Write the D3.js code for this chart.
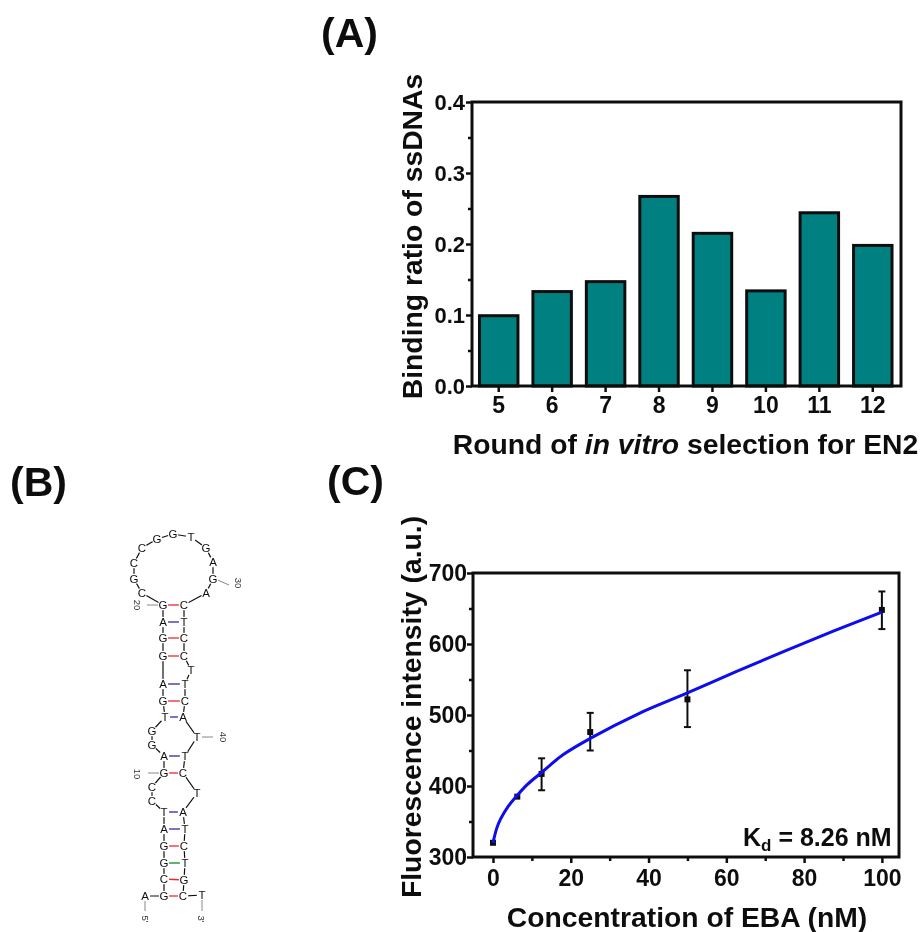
<!DOCTYPE html>
<html><head><meta charset="utf-8">
<script src="https://cdn.jsdelivr.net/npm/d3@7"></script>
<style>html,body{margin:0;background:#fff}svg{display:block}text{font-family:"Liberation Sans",Arial,sans-serif}
.b{font-weight:700;fill:#111}.axis path{display:none}</style></head><body>
<script>
// Panel A
const rounds = ["5","6","7","8","9","10","11","12"];
const ratios = [0.099,0.133,0.147,0.267,0.215,0.134,0.244,0.198];
const aMajor = [0,0.1,0.2,0.3,0.4];
const aMinor = [0.05,0.15,0.25,0.35];
// Panel C
const conc = [0,6.25,12.5,25,50,100];
const fluor = [320,385,417,476,522,648];
const errLow = [320,385,394,450,483,621];
const errHigh = [320,385,439,503,563,674];
const fitX = [0,1,2,4,6.25,9,12.5,18,25,37.5,50,62.5,75,87.5,100];
const fitY = [320,341,354,372,387,403,419,444,467,502,531,561,590,618,645];
const cXMajor = [0,20,40,60,80,100];
const cXMinor = [10,30,50,70,90];
const cYMajor = [300,400,500,600,700];
const cYMinor = [350,450,550,650];
// Panel B: sequence, 5' to 3', and drawn position of each base in diagram units
const seq = "AGCGGATCCGAGGTGAGGAGCGCCGGTGAGACTCCTTCATTCTATCTGCT".split("");
const baseX = [15,34,34,34,34,34,34,22,22,34,34,22,22,35,33,33,33,33,33,33,12,4,4,12,27,43,61,76,83,83,76,54,54,54,54,61,55,55,53,67,55,53,67,53,55,54,55,54,53,72];
const baseY = [366,366,349,333,316,299,282,271,257,243,226,215,201,187,171,154,126,108,92,75,63,49,33,18,9,4,7,18,32,49,63,75,92,108,126,140,154,171,187,207,226,243,263,282,299,316,333,350,366,365];
const pairs = [[2,49],[3,48],[4,47],[5,46],[6,45],[7,44],[10,42],[11,41],[14,39],[15,38],[16,37],[17,35],[18,34],[19,33],[20,32]];
const pairColors = {CG:"#f0282d",AT:"#2a2aa8",GT:"#0a8a1a"};
const marks = [
  {label:"20",base:20,dx:-16,dy:0,lx:-26,ly:0},
  {label:"30",base:30,dx:16,dy:6,lx:25,ly:4},
  {label:"40",base:40,dx:16,dy:0,lx:26,ly:0},
  {label:"10",base:10,dx:-16,dy:0,lx:-27,ly:1},
  {label:"5'",base:1,dx:0,dy:15,lx:0,ly:23},
  {label:"3'",base:50,dx:0,dy:16,lx:-1,ly:24}
];

const root = d3.select("body").append("svg").attr("width",922).attr("height",932);
root.append("defs").append("filter").attr("id","soft").attr("filterUnits","userSpaceOnUse")
  .attr("x",0).attr("y",0).attr("width",922).attr("height",932)
  .append("feGaussianBlur").attr("stdDeviation",0.45);
const svg = root.append("g").attr("filter","url(#soft)");
svg.append("rect").attr("width",922).attr("height",932).attr("fill","#fff");

function head(t,x,y){svg.append("text").attr("class","b").attr("x",x).attr("y",y).attr("font-size",41).text(t);}
head("(A)",321,47);head("(B)",10,496);head("(C)",327,495);

function ticks(g,axisFn,scale,major,minor,fmt,labelSize,pad){
  const M=g.append("g").attr("class","axis").call(axisFn(scale).tickValues(major).tickSize(6).tickPadding(pad).tickFormat(fmt));
  M.selectAll("line").attr("stroke","#111").attr("stroke-width",2.5);
  M.selectAll("text").attr("class","b").attr("font-size",labelSize).attr("fill","#111");
  if(minor){const m=g.append("g").attr("class","axis").call(axisFn(scale).tickValues(minor).tickSize(4).tickFormat(""));
  m.selectAll("line").attr("stroke","#111").attr("stroke-width",2.5);}
}
function frame(l,t,r,b){svg.append("rect").attr("x",l).attr("y",t).attr("width",r-l).attr("height",b-t).attr("fill","none").attr("stroke","#111").attr("stroke-width",3);}
function axisTitle(t,x,y,rot){const e=svg.append("text").attr("class","b").attr("text-anchor","middle").attr("font-size",28.3)
  .attr("transform",`translate(${x},${y})${rot?" rotate(-90)":""}`);return e.text(t);}

// ---- A
{
 const L=472,R=901,T=102,B=386;
 const x=d3.scaleBand().domain(rounds).range([L,899.5]).paddingInner(0.28).paddingOuter(0.14);
 const y=d3.scaleLinear().domain([0,0.4]).range([B,T]);
 svg.append("g").selectAll("rect").data(rounds).join("rect")
  .attr("x",d=>x(d)).attr("width",x.bandwidth())
  .attr("y",(d,i)=>y(ratios[i])).attr("height",(d,i)=>B-y(ratios[i]))
  .attr("fill","#008080").attr("stroke","#111").attr("stroke-width",3);
 frame(L,T,R,B);
 ticks(svg.append("g").attr("transform",`translate(${L},0)`),d3.axisLeft,y,aMajor,aMinor,d3.format(".1f"),22,1);
 ticks(svg.append("g").attr("transform",`translate(0,${B})`),d3.axisBottom,x,rounds,null,d=>d,23,5);
 const t=axisTitle("",685.5,454,false);
 t.append("tspan").text("Round of ");t.append("tspan").attr("font-style","italic").text("in vitro");t.append("tspan").text(" selection for EN2");
 axisTitle("Binding ratio of ssDNAs",422,236.5,true);
}
// ---- C
{
 const L=473,R=899,T=573,B=857;
 const x=d3.scaleLinear().domain([-5.14,104.4]).range([L,R]);
 const y=d3.scaleLinear().domain([300,700]).range([B,T]);
 frame(L,T,R,B);
 ticks(svg.append("g").attr("transform",`translate(${L},0)`),d3.axisLeft,y,cYMajor,cYMinor,d=>d,23,0);
 ticks(svg.append("g").attr("transform",`translate(0,${B})`),d3.axisBottom,x,cXMajor,cXMinor,d=>d,23,7);
 const ink=svg.append("g").attr("stroke","#111").attr("stroke-width",2);
 conc.forEach((c,i)=>{ if(errHigh[i]===errLow[i])return;
  ink.append("line").attr("x1",x(c)).attr("x2",x(c)).attr("y1",y(errLow[i])).attr("y2",y(errHigh[i]));
  [errLow[i],errHigh[i]].forEach(v=>ink.append("line").attr("x1",x(c)-3.5).attr("x2",x(c)+3.5).attr("y1",y(v)).attr("y2",y(v)));
 });
 svg.append("g").selectAll("rect").data(conc).join("rect")
  .attr("x",d=>x(d)-3).attr("width",6).attr("height",6).attr("y",(d,i)=>y(fluor[i])-3).attr("fill","#111");
 svg.append("path").datum(fitX).attr("fill","none").attr("stroke","#0a0aee").attr("stroke-width",3)
  .attr("d",d3.line().x(d=>x(d)).y((d,i)=>y(fitY[i])).curve(d3.curveCatmullRom));
 const k=svg.append("text").attr("class","b").attr("x",743).attr("y",846).attr("font-size",25);
 k.append("tspan").text("K");k.append("tspan").attr("dy",5).attr("font-size",17).text("d");
 k.append("tspan").attr("dy",-5).text(" = 8.26 nM");
 axisTitle("Concentration of EBA (nM)",687,927,false);
 axisTitle("Fluorescence intensity (a.u.)",421,707,true);
}
// ---- B
{
 const x=d3.scaleLinear().domain([0,100]).range([130,230]);
 const y=d3.scaleLinear().domain([0,400]).range([530,930]);
 const g=svg.append("g");
 g.append("path").datum(seq).attr("fill","none").attr("stroke","#111").attr("stroke-width",1.2)
  .attr("d",d3.line().x((d,i)=>x(baseX[i])).y((d,i)=>y(baseY[i])));
 pairs.forEach(([a,b])=>{
  const k=[seq[a-1],seq[b-1]].sort().join("");
  g.append("line").attr("x1",x(baseX[a-1])).attr("x2",x(baseX[b-1])).attr("y1",y(baseY[a-1])).attr("y2",y(baseY[b-1]))
   .attr("stroke",pairColors[k]).attr("stroke-width",1.3);
 });
 g.selectAll("circle").data(seq).join("circle").attr("cx",(d,i)=>x(baseX[i])).attr("cy",(d,i)=>y(baseY[i])).attr("r",5.2).attr("fill","#fff");
 g.selectAll("text.n").data(seq).join("text").attr("class","n").attr("text-anchor","middle").attr("font-size",11.5).attr("fill","#111")
  .attr("x",(d,i)=>x(baseX[i])).attr("y",(d,i)=>y(baseY[i])+4.1).text(d=>d);
 marks.forEach(m=>{
  const bx=x(baseX[m.base-1]),by=y(baseY[m.base-1]);
  const sx=m.dx?Math.sign(m.dx)*5:0,sy=m.dy&&!m.dx?5:0;
  g.append("line").attr("x1",bx+sx).attr("y1",by+sy+(m.dx?m.dy*.2:0)).attr("x2",bx+m.dx).attr("y2",by+m.dy).attr("stroke","#888").attr("stroke-width",1);
  g.append("text").attr("font-size",9.5).attr("fill","#333").attr("text-anchor","middle").attr("dominant-baseline","middle")
   .attr("transform",`translate(${bx+m.lx},${by+m.ly}) rotate(90)`).text(m.label);
 });
}
</script></body></html>
